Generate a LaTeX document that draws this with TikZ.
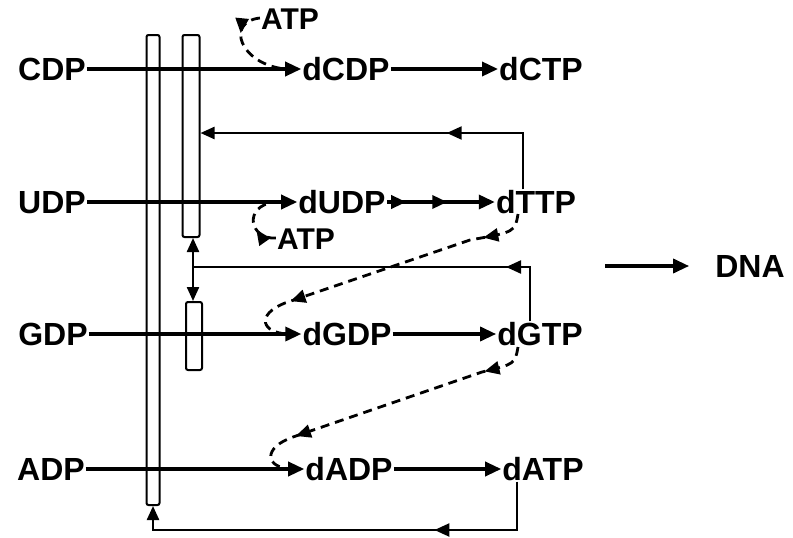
\documentclass[tikz,border=0pt]{standalone}
\usepackage{fontspec}
\setmainfont{Liberation Sans}
\usepackage{tikz}
\usetikzlibrary{arrows.meta,decorations.markings}
\tikzset{
  lbl/.style={font=\fontsize{32}{36}\selectfont\bfseries, inner sep=1pt, text height=23pt, text depth=0pt},
  small/.style={lbl, font=\fontsize{30}{34}\selectfont\bfseries},
  bar/.style={rectangle, draw, line width=2pt, rounded corners=2pt, inner sep=0pt},
  arrow/.style={-{Triangle[length=16pt, width=14pt]}, line width=3.4pt},
  fb/.style={line width=2.3pt},
  fbarrow/.style={fb, -{Triangle[length=14pt, width=12pt]}},
  dsh/.style={line width=2.8pt, dash pattern=on 9pt off 6pt},
  tipat/.style={postaction={decorate, decoration={markings,
      mark=at position #1 with {\arrow{Triangle[length=15pt, width=13pt]}}}}},
}

\begin{document}
\begin{tikzpicture}[x=1pt, y=-1pt]
  \useasboundingbox (0,0) rectangle (793,538);

  % Ribonucleotides
  \node[lbl] (cdp) at (52,69) {CDP};
  \node[lbl] (udp) at (52,202) {UDP};
  \node[lbl] (gdp) at (53,334) {GDP};
  \node[lbl] (adp) at (51,469) {ADP};

  % Deoxyribonucleotides
  \node[lbl] (dcdp) at (346,69) {dCDP};
  \node[lbl] (dctp) at (541,69) {dCTP};
  \node[lbl] (dudp) at (342,202) {dUDP};
  \node[lbl] (dttp) at (536,202) {dTTP};
  \node[lbl] (dgdp) at (347,334) {dGDP};
  \node[lbl] (dgtp) at (540,334) {dGTP};
  \node[lbl] (dadp) at (349,469) {dADP};
  \node[lbl] (datp) at (543,469) {dATP};
  \node[lbl] (dna) at (750,266) {DNA};

  % ATP effectors
  \node[small] (atpa) at (290,18) {ATP};
  \node[small] (atpb) at (306,238) {ATP};

  % Enzyme bars
  \node[bar, minimum width=13pt, minimum height=470pt] (bara) at (153,270) {};
  \node[bar, minimum width=17pt, minimum height=202pt] (barb) at (191,136) {};
  \node[bar, minimum width=16pt, minimum height=68pt] (barc) at (194,336) {};

  % Turning points
  \coordinate (tturn) at (523,133);
  \coordinate (gturn) at (530,267);
  \coordinate (gjoin) at (193,267);
  \coordinate (aturn) at (517,530);
  \coordinate (dnain) at (605,266);
  \coordinate (ma) at (285,69);
  \coordinate (mb) at (275,202);
  \coordinate (tout) at (518,214);
  \coordinate (gout) at (518,347);

  % Reactions
  \draw[arrow] (cdp) -- (dcdp);
  \draw[arrow] (dcdp) -- (dctp);
  \draw[arrow] (udp) -- (dudp);
  \draw[arrow, tipat=0.18, tipat=0.56] (dudp) -- (dttp);
  \draw[arrow] (gdp) -- (dgdp);
  \draw[arrow] (dgdp) -- (dgtp);
  \draw[arrow] (adp) -- (dadp);
  \draw[arrow] (dadp) -- (datp);
  \draw[arrow, shorten >=25pt] (dnain) -- (dna);

  % Feedback
  \draw[fbarrow, tipat=0.35] (dttp.north -| tturn) -- (tturn) -- (barb.east |- tturn);
  \draw[fb, tipat=0.2] (dgtp.north -| gturn) -- (gturn) -- (gjoin);
  \draw[fbarrow] (gjoin) -- (gjoin |- barb.south);
  \draw[fbarrow] (gjoin) -- (gjoin |- barc.north);
  \draw[fbarrow, tipat=0.3] (datp.south -| aturn) -- (aturn) -- (bara.south |- aturn) -- (bara.south);

  % Effector loops
  \draw[dsh, tipat=0.3] (atpa.west) .. controls (225,22) and (240,64) .. (ma);
  \draw[dsh, tipat=0.35] (atpb.west) .. controls (250,240) and (242,206) .. (mb);
  \draw[dsh, tipat=0.15, tipat=0.8] (tout) .. controls (515,232) .. (470,240)
    -- (285,303) .. controls (255,315) and (262,333) .. (288,334);
  \draw[dsh, tipat=0.15, tipat=0.8] (gout) .. controls (515,364) .. (482,372)
    -- (293,437) .. controls (262,448) and (265,468) .. (292,469);

\end{tikzpicture}
\end{document}
